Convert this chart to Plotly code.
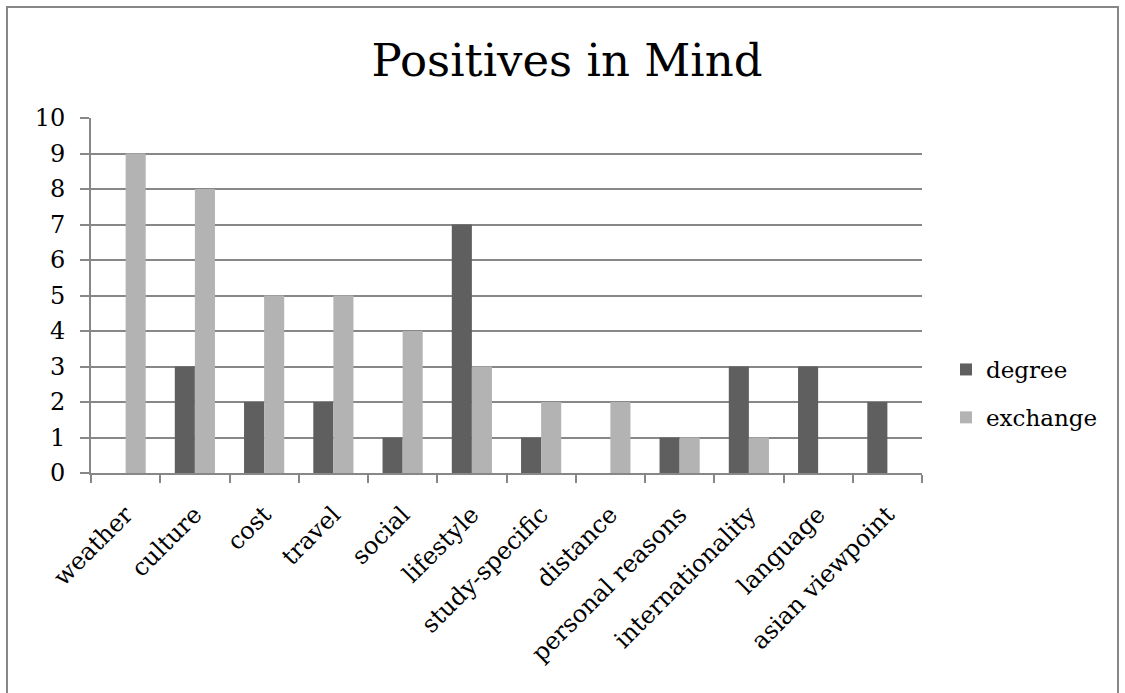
import plotly.graph_objects as go

categories = ["weather", "culture", "cost", "travel", "social", "lifestyle",
              "study-specific", "distance", "personal reasons",
              "internationality", "language", "asian viewpoint"]
degree = [0, 3, 2, 2, 1, 7, 1, 0, 1, 3, 3, 2]
exchange = [9, 8, 5, 5, 4, 3, 2, 2, 1, 1, 0, 0]

FONT = "DejaVu Serif"
GRID = "#878787"

# plot area in pixels: x 91..922, y 118..473
L, R, T, B = 91, 1125 - 922, 118, 693 - 473
pw, ph = 1125 - L - R, 693 - T - B

fig = go.Figure()
fig.add_trace(go.Bar(x=categories, y=degree, name="degree",
                     marker=dict(color="#5f5f5f", line=dict(width=0)),
                     legendgroup="degree"))
fig.add_trace(go.Bar(x=categories, y=exchange, name="exchange",
                     marker=dict(color="#b3b3b3", line=dict(width=0)),
                     legendgroup="exchange"))

fig.update_layout(
    width=1125, height=693,
    margin=dict(l=L, r=R, t=T, b=B),
    paper_bgcolor="white", plot_bgcolor="white",
    barmode="group", bargap=0.42, bargroupgap=0,
    font=dict(family=FONT, color="black", size=24),
    title=dict(text="Positives in Mind", x=(567 - L) / pw, xref="paper",
               xanchor="center", y=1 - 60 / 693, yanchor="middle",
               font=dict(family=FONT, size=45, color="black")),
    legend=dict(x=(946 - L) / pw, y=(473 - 348) / ph, xanchor="left",
                yanchor="top", font=dict(family=FONT, size=23),
                traceorder="grouped", tracegroupgap=15,
                bgcolor="rgba(0,0,0,0)"),
    xaxis=dict(type="category", showgrid=False, showline=True,
               linecolor=GRID, linewidth=2, ticks="outside",
               tickson="boundaries", ticklen=8, tickcolor=GRID,
               tickwidth=2, tickangle=-45, ticklabelstandoff=16,
               tickfont=dict(family=FONT, size=24)),
    yaxis=dict(range=[0, 10], dtick=1, showgrid=True, gridcolor=GRID,
               gridwidth=2, showline=True, linecolor=GRID, linewidth=2,
               ticks="outside", ticklen=9, tickcolor=GRID, tickwidth=2,
               zeroline=False, ticklabelstandoff=10,
               tickfont=dict(family=FONT, size=24)),
    showlegend=True,
)

# outer chart frame
fig.add_shape(type="rect", xref="paper", yref="paper",
              x0=(7 - L) / pw, x1=(1118 - L) / pw,
              y0=(473 - 720) / ph, y1=(473 - 7) / ph,
              line=dict(color=GRID, width=2), fillcolor="rgba(0,0,0,0)",
              layer="below")

fig.write_html("out.html")
